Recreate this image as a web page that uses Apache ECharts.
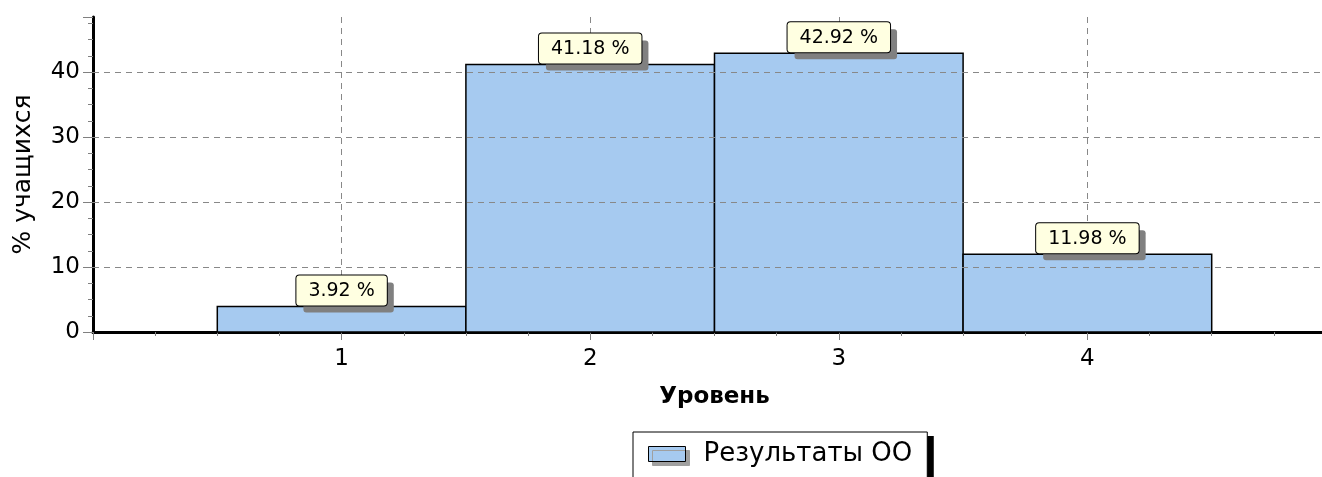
<!DOCTYPE html>
<html>
<head>
<meta charset="utf-8">
<script src="https://cdn.jsdelivr.net/npm/echarts@6/dist/echarts.min.js"></script>
<style>
  html, body { margin: 0; padding: 0; background: #fff; }
  #chart { width: 1322px; height: 477px; }
</style>
</head>
<body>
<div id="chart"></div>
<script>
// data
const levels = [1, 2, 3, 4];
const percents = [3.92, 41.18, 42.92, 11.98];
const yGridValues = [10, 20, 30, 40];
const seriesName = 'Результаты ОО';

const font = 'DejaVu Sans';
const barColor = '#A6CAF0';

const chart = echarts.init(document.getElementById('chart'));

const barData = levels.map((l, i) => [l, percents[i]]);

// bar + yellow value box with hard grey shadow
function renderBar(params, api) {
  const x = api.value(0);
  const y = api.value(1);
  const topLeft = api.coord([x - 0.5, y]);
  const bottomRight = api.coord([x + 0.5, 0]);
  const cx = (topLeft[0] + bottomRight[0]) / 2;
  const labelY = topLeft[1] - 1;
  const text = y.toFixed(2) + ' %';
  const boxStyle = {
    text: text,
    fontFamily: font,
    fontSize: 19,
    align: 'center',
    verticalAlign: 'bottom',
    padding: [6, 12, 5, 12],
    borderRadius: 3
  };
  return {
    type: 'group',
    children: [
      {
        type: 'rect',
        z2: 0,
        shape: {
          x: topLeft[0],
          y: topLeft[1],
          width: bottomRight[0] - topLeft[0],
          height: bottomRight[1] - topLeft[1]
        },
        style: { fill: barColor, stroke: '#000', lineWidth: 1.5 }
      },
      {
        type: 'text',
        z2: 1,
        x: cx + 7,
        y: labelY + 7,
        style: Object.assign({}, boxStyle, { fill: 'rgba(0,0,0,0)', backgroundColor: '#808080' })
      },
      {
        type: 'text',
        z2: 2,
        x: cx,
        y: labelY,
        style: Object.assign({}, boxStyle, {
          fill: '#000', backgroundColor: '#FFFFE1', borderColor: '#000', borderWidth: 1
        })
      }
    ]
  };
}

const legendBase = {
  left: 633,
  top: 432,
  padding: [9, 15, 30, 15],
  itemWidth: 37,
  itemHeight: 15,
  textStyle: { fontFamily: font, fontSize: 26, color: '#000', padding: [0, 0, 0, 13] },
  data: [{ name: seriesName, icon: 'rect' }]
};

const option = {
  animation: false,
  grid: { left: 93, right: -14, top: 17, bottom: 145, outerBoundsMode: 'none', containLabel: false },
  xAxis: {
    type: 'value',
    min: 0,
    max: 5,
    interval: 1,
    name: 'Уровень',
    nameLocation: 'middle',
    nameGap: 54,
    nameTextStyle: { fontFamily: font, fontWeight: 'bold', fontSize: 23, color: '#000' },
    axisLine: { onZero: false, lineStyle: { color: '#000', width: 3 } },
    axisTick: { length: 8, lineStyle: { color: '#808080' } },
    minorTick: { show: true, splitNumber: 4, length: 4, lineStyle: { color: '#808080' } },
    axisLabel: {
      formatter: v => levels.includes(v) ? String(v) : '',
      fontFamily: font, fontSize: 23, color: '#000', margin: 16
    },
    splitLine: { show: true, lineStyle: { color: '#888', type: [6, 5] } }
  },
  yAxis: {
    type: 'value',
    min: 0,
    max: 48.5,
    interval: 10,
    name: '% учащихся',
    nameLocation: 'middle',
    nameGap: 57,
    nameRotate: 90,
    nameTextStyle: { fontFamily: font, fontSize: 25, color: '#000' },
    axisLine: { show: true, onZero: false, lineStyle: { color: '#000', width: 3 } },
    axisTick: { show: true, length: 10, lineStyle: { color: '#808080' } },
    minorTick: { show: true, splitNumber: 4, length: 5, lineStyle: { color: '#808080' } },
    axisLabel: {
      formatter: v => (v % 10 === 0 ? String(v) : ''),
      fontFamily: font, fontSize: 23, color: '#000', margin: 13
    },
    splitLine: { show: false }
  },
  legend: [
    // black drop shadow behind the legend box
    Object.assign({}, legendBase, {
      left: 639,
      top: 436,
      z: 3,
      backgroundColor: '#000',
      borderWidth: 0,
      itemStyle: { opacity: 0 },
      textStyle: Object.assign({}, legendBase.textStyle, { color: 'rgba(0,0,0,0)' })
    }),
    Object.assign({}, legendBase, {
      z: 4,
      backgroundColor: '#fff',
      borderColor: '#000',
      borderWidth: 1,
      itemStyle: {
        color: barColor, borderColor: '#000', borderWidth: 1,
        shadowColor: '#a0a0a0', shadowOffsetX: 4, shadowOffsetY: 4, shadowBlur: 0
      }
    })
  ],
  series: [
    {
      // horizontal dashed grid lines
      type: 'line',
      name: 'grid',
      data: [],
      z: 1,
      silent: true,
      markLine: {
        silent: true,
        symbol: 'none',
        label: { show: false },
        lineStyle: { color: '#888', type: [6, 5], width: 1 },
        data: yGridValues.map(v => ({ yAxis: v }))
      }
    },
    {
      type: 'custom',
      name: seriesName,
      z: 3,
      renderItem: renderBar,
      encode: { x: 0, y: 1 },
      itemStyle: { color: barColor, borderColor: '#000', borderWidth: 1 },
      data: barData
    }
  ]
};

chart.setOption(option);
</script>
</body>
</html>
